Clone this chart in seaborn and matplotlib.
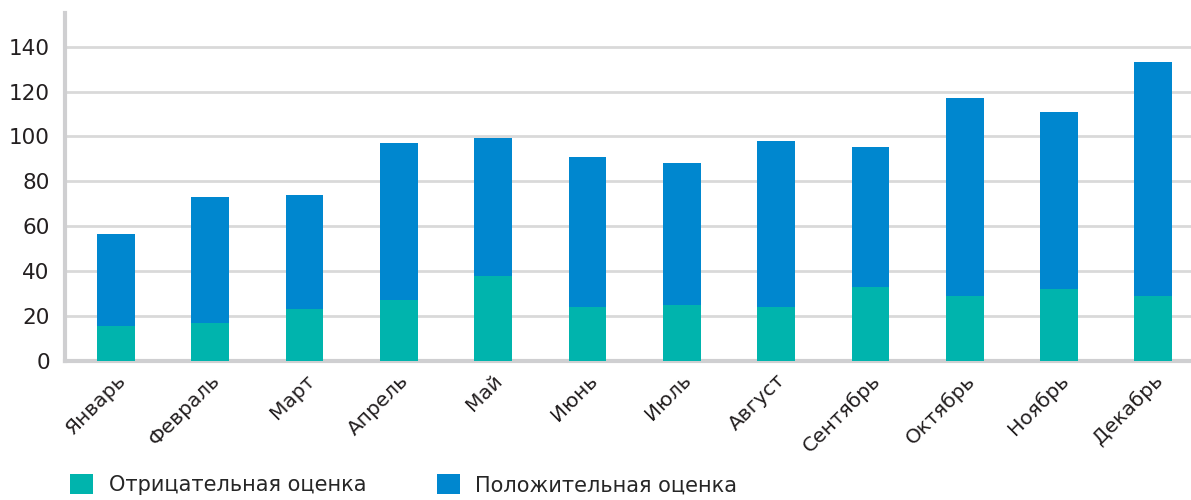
import matplotlib
matplotlib.use("Agg")
import matplotlib.pyplot as plt
import seaborn as sns
import pandas as pd
from matplotlib.patches import Patch


# ДАННЫЕ

months = [
    "Январь", "Февраль", "Март", "Апрель", "Май", "Июнь",
    "Июль", "Август", "Сентябрь", "Октябрь", "Ноябрь", "Декабрь"
]

negative = [15.5, 17, 23, 27, 38, 24, 25, 24, 33, 29, 32, 29]
positive = [41, 56, 51, 70, 61.5, 67, 63, 74, 62.5, 88, 79, 104]

labels = ["Отрицательная оценка", "Положительная оценка"]

TEAL = "#00B4AD"
BLUE = "#0087CF"

df = pd.DataFrame({
    "month": months,
    "negative": negative,
    "positive": positive,
})
df["total"] = df["negative"] + df["positive"]


# ГРАФИК

sns.set_style("white")
plt.rcParams["font.family"] = ["DejaVu Sans"]

fig = plt.figure(figsize=(11.91, 5), dpi=100)
ax = fig.add_axes([0.0546, 0.278, 0.9454, 0.696])

ax.yaxis.grid(True, color="#d9d9d9", linewidth=2, zorder=0)
ax.set_axisbelow(True)

sns.barplot(
    data=df, x="month", y="total", color=BLUE,
    width=0.4, saturation=1, linewidth=0, ax=ax, zorder=2
)
sns.barplot(
    data=df, x="month", y="negative", color=TEAL,
    width=0.4, saturation=1, linewidth=0, ax=ax, zorder=3
)

ax.set_xlim(-0.54, 11.4)
ax.set_ylim(0, 155)
ax.set_yticks(range(0, 141, 20))

ax.set_xlabel("")
ax.set_ylabel("")

for s in ["top", "right"]:
    ax.spines[s].set_visible(False)
for s in ["left", "bottom"]:
    ax.spines[s].set_color("#cfcfd1")
    ax.spines[s].set_linewidth(3)

ax.tick_params(axis="both", length=0, labelsize=15.5, colors="#231f20")
ax.tick_params(axis="y", pad=11)
ax.tick_params(axis="x", pad=7)
plt.setp(ax.get_xticklabels(), rotation=45, ha="right",
         rotation_mode="anchor", fontsize=14.5)

handles = [
    Patch(facecolor=TEAL, edgecolor="none"),
    Patch(facecolor=BLUE, edgecolor="none"),
]
fig.legend(
    handles, labels,
    loc="lower left",
    bbox_to_anchor=(0.043, -0.028),
    ncol=2,
    frameon=False,
    fontsize=15,
    handlelength=1.1,
    handleheight=1.1,
    handletextpad=0.75,
    columnspacing=3.4,
)

fig.savefig("out.png", dpi=100)
